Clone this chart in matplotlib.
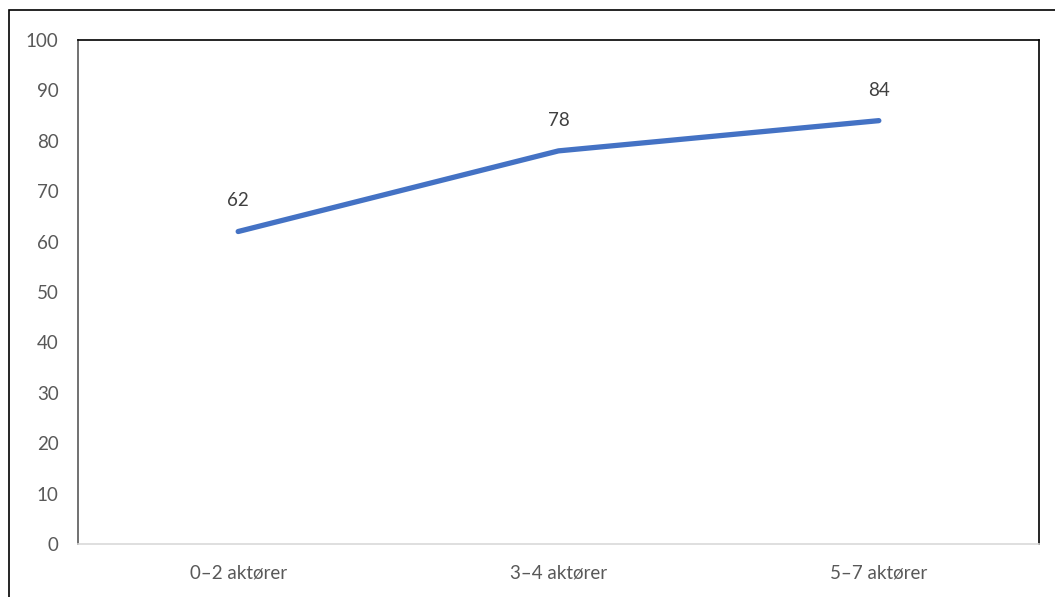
import matplotlib
matplotlib.use("Agg")
import matplotlib.pyplot as plt
from matplotlib.patches import Rectangle

categories = ["0–2 aktører", "3–4 aktører", "5–7 aktører"]
values = [62, 78, 84]
yticks = list(range(0, 101, 10))

W, H = 1055, 597
fig = plt.figure(figsize=(W / 100, H / 100), dpi=100)
plt.rcParams['font.family'] = ['Lato', 'DejaVu Sans']

# outer chart frame
fig.patches.append(Rectangle((9 / W, -0.1), 1.2, (H - 10) / H + 0.1,
                             transform=fig.transFigure, fill=False,
                             edgecolor='#000000', linewidth=1.2))

ax = fig.add_axes([78 / W, (H - 544) / H, (1039 - 78) / W, (544 - 40) / H])
x = list(range(len(categories)))
ax.plot(x, values, color='#4472C4', linewidth=3.8, solid_capstyle='round',
        solid_joinstyle='round')

for xi, v in zip(x, values):
    ax.annotate(f"{v}", (xi, v), xytext=(0, 22), textcoords='offset points',
                ha='center', va='center', fontsize=13.5, color='#404040')

ax.set_xlim(-0.5, len(categories) - 0.5)
ax.set_ylim(0, 100)
ax.set_yticks(yticks)
ax.set_xticks(x)
ax.set_xticklabels(categories)
ax.tick_params(axis='both', length=0, labelsize=13.5, labelcolor='#595959')
ax.tick_params(axis='y', pad=14)
ax.tick_params(axis='x', pad=15)

ax.spines['top'].set_color('#000000')
ax.spines['right'].set_color('#000000')
ax.spines['left'].set_color('#595959')
ax.spines['bottom'].set_color('#D9D9D9')
for s in ax.spines.values():
    s.set_linewidth(1.2)

fig.savefig("out.png", dpi=100)
